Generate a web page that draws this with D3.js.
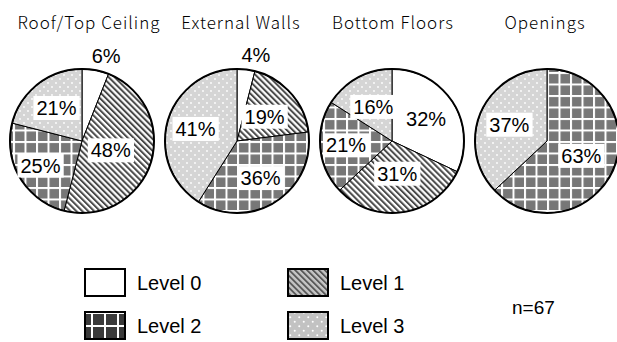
<!DOCTYPE html>
<html>
<head>
<meta charset="utf-8">
<script src="https://cdn.jsdelivr.net/npm/d3@7/dist/d3.min.js"></script>
<style>
  html, body { margin: 0; padding: 0; background: #fff; }
  svg { display: block; }
</style>
</head>
<body>
<svg id="chart" width="617" height="342"></svg>
<script>
// Building element categories, one pie each
const elements = ["Roof/Top Ceiling", "External Walls", "Bottom Floors", "Openings"];
// Insulation levels (slice order, clockwise from 12 o'clock)
const levels = ["Level 0", "Level 1", "Level 2", "Level 3"];
// Share of each level per element (%)
const roofValues    = [6, 48, 25, 21];
const wallValues    = [4, 19, 36, 41];
const floorValues   = [32, 31, 21, 16];
const openingValues = [0, 0, 63, 37];
const sampleNote = "n=67";

const seriesByElement = [roofValues, wallValues, floorValues, openingValues];

// Label distance from the pie centre, as a fraction of the radius
const labelRadius = [
  [1.2, 0.42, 0.67, 0.58],
  [1.2, 0.51, 0.61, 0.60],
  [0.56, 0.46, 0.64, 0.54],
  [0.5, 0.5, 0.52, 0.57]
];

const svg = d3.select("#chart");
const defs = svg.append("defs");

// ---- fill patterns ----
function hatch(id, bg, fg, gap, lw) {
  const p = defs.append("pattern").attr("id", id)
    .attr("patternUnits", "userSpaceOnUse")
    .attr("width", gap).attr("height", gap)
    .attr("patternTransform", "rotate(-45)");
  p.append("rect").attr("width", gap).attr("height", gap).attr("fill", bg);
  p.append("rect").attr("x", 0).attr("y", 0).attr("width", lw).attr("height", gap).attr("fill", fg);
}
function grid(id, bg, cell, lw) {
  const p = defs.append("pattern").attr("id", id)
    .attr("patternUnits", "userSpaceOnUse")
    .attr("width", cell).attr("height", cell);
  p.append("rect").attr("width", cell).attr("height", cell).attr("fill", bg);
  p.append("rect").attr("x", 0).attr("y", 0).attr("width", cell).attr("height", lw).attr("fill", "#fff");
  p.append("rect").attr("x", 0).attr("y", 0).attr("width", lw).attr("height", cell).attr("fill", "#fff");
}
function dots(id, bg, step, r) {
  const p = defs.append("pattern").attr("id", id)
    .attr("patternUnits", "userSpaceOnUse")
    .attr("width", step).attr("height", step);
  p.append("rect").attr("width", step).attr("height", step).attr("fill", bg);
  p.append("circle").attr("cx", step * 0.25).attr("cy", step * 0.25).attr("r", r).attr("fill", "#fff");
  p.append("circle").attr("cx", step * 0.75).attr("cy", step * 0.75).attr("r", r).attr("fill", "#fff");
}

hatch("p1", "#ffffff", "#4a4a4a", 4.2, 2);
grid("p2", "#777777", 11.5, 2);
dots("p3", "#d5d5d5", 8, 0.9);
hatch("lp1", "#c4c4c4", "#555555", 4.2, 1.8);
grid("lp2", "#3a3a3a", 13, 2);
dots("lp3", "#c2c2c2", 9, 1);

const fills = ["#ffffff", "url(#p1)", "url(#p2)", "url(#p3)"];
const legendFills = ["#ffffff", "url(#lp1)", "url(#lp2)", "url(#lp3)"];

// ---- layout ----
const radius = 72;
const centerY = 141;
const x = d3.scalePoint().domain(elements).range([82, 547]);
const titleX = d3.scalePoint().domain(elements).range([89, 545]);

const pie = d3.pie().sort(null).value(d => d);
const arc = d3.arc().innerRadius(0).outerRadius(radius);

const labelFont = "'Liberation Sans', Arial, sans-serif";
const titleFont = "'Noto Sans CJK JP', 'Noto Sans', sans-serif";

elements.forEach((name, i) => {
  const cx = x(name);
  const g = svg.append("g").attr("transform", `translate(${cx},${centerY})`);
  const arcs = pie(seriesByElement[i]);

  g.selectAll("path.slice")
    .data(arcs.filter(a => a.data > 0))
    .join("path")
    .attr("class", "slice")
    .attr("d", arc)
    .attr("fill", d => fills[d.index])
    .attr("stroke", "#000")
    .attr("stroke-width", 1);

  g.append("circle").attr("r", radius)
    .attr("fill", "none").attr("stroke", "#000").attr("stroke-width", 2);

  // value labels: inside ones sit on white boxes, small slices go outside
  arcs.filter(a => a.data > 0).forEach(a => {
    const k = labelRadius[i][a.index];
    const mid = (a.startAngle + a.endAngle) / 2;
    const outside = k >= 1;
    const lx = Math.sin(mid) * radius * k + (outside ? 8 : 0);
    const ly = -Math.cos(mid) * radius * k;
    const lg = g.append("g").attr("transform", `translate(${lx},${ly})`);
    const t = lg.append("text")
      .attr("text-anchor", "middle")
      .attr("dominant-baseline", "central")
      .attr("font-family", labelFont)
      .attr("font-size", 20)
      .attr("fill", "#000")
      .text(a.data + "%");
    if (!outside) {
      const bb = t.node().getBBox();
      lg.insert("rect", "text")
        .attr("x", bb.x - 3).attr("y", bb.y - 1)
        .attr("width", bb.width + 6).attr("height", bb.height + 2)
        .attr("fill", "#fff");
    }
  });

  svg.append("text")
    .attr("x", titleX(name))
    .attr("y", 29)
    .attr("text-anchor", "middle")
    .attr("font-family", titleFont)
    .attr("font-size", 17)
    .attr("font-weight", 300)
    .attr("letter-spacing", 1)
    .attr("fill", "#000")
    .text(name);
});

// ---- legend ----
const legendX = d3.scalePoint().domain([0, 1]).range([85, 288]);
const legendY = d3.scalePoint().domain([0, 1]).range([269, 312]);
levels.forEach((lv, i) => {
  const col = i % 2, row = Math.floor(i / 2);
  const lx = legendX(col), ly = legendY(row);
  svg.append("rect")
    .attr("x", lx).attr("y", ly)
    .attr("width", 40).attr("height", 27)
    .attr("fill", legendFills[i])
    .attr("stroke", "#000").attr("stroke-width", 2);
  svg.append("text")
    .attr("x", lx + 52).attr("y", ly + 14)
    .attr("dominant-baseline", "central")
    .attr("font-family", labelFont)
    .attr("font-size", 20)
    .attr("fill", "#000")
    .text(lv);
});

svg.append("text")
  .attr("x", 512).attr("y", 307)
  .attr("dominant-baseline", "central")
  .attr("font-family", labelFont)
  .attr("font-size", 19)
  .attr("fill", "#000")
  .text(sampleNote);
</script>
</body>
</html>
